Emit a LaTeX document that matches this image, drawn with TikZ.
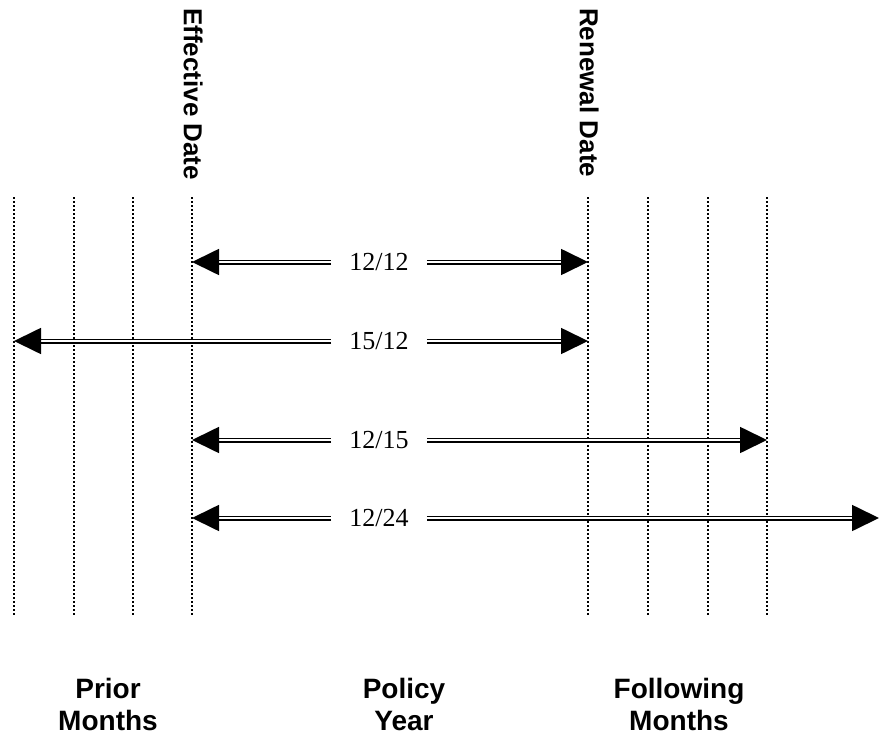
\documentclass[tikz,border=0pt]{standalone}
\usepackage{fontspec}
\setmainfont{Liberation Serif}
\newfontfamily\arialfont{Liberation Sans}
\usetikzlibrary{arrows.meta}
\begin{document}
\begin{tikzpicture}[x=1pt,y=-1pt,
  grid/.style={line width=1.6pt, dash pattern=on 1.6pt off 2.4pt},
  dbl/.style={double, double distance=1.6pt, line width=1.7pt, -{Triangle[length=27pt,width=26pt]}},
  num/.style={font=\fontsize{26}{26}\selectfont, inner xsep=18pt, inner ysep=2pt},
  vlab/.style={font=\arialfont\bfseries\fontsize{26}{26}\selectfont, rotate=-90, anchor=north west, inner sep=0pt},
  blab/.style={font=\arialfont\bfseries\fontsize{28}{32}\selectfont, align=center, inner sep=0pt}]
\useasboundingbox (0,0) rectangle (880,738);
% vertical dotted lines
\foreach \n/\x in {a/14,b/74,c/133,d/192,e/588,f/648,g/708,h/767}{
  \coordinate (\n top) at (\x,197);
  \coordinate (\n bot) at (\x,615);
  \draw[grid] (\n top) -- (\n bot);
}
% rotated labels
\node[vlab] (eff) at (203,8) {Effective Date};
\node[vlab] (ren) at (599,8) {Renewal Date};
% arrow rows
\coordinate (r1l) at (192,262); \coordinate (r1r) at (588,262);
\coordinate (r2l) at (14,341);  \coordinate (r2r) at (588,341);
\coordinate (r3l) at (192,440); \coordinate (r3r) at (767,440);
\coordinate (r4l) at (192,518); \coordinate (r4r) at (879,518);
\node[num] (n1) at (379,262) {12/12};
\node[num] (n2) at (379,341) {15/12};
\node[num] (n3) at (379,440) {12/15};
\node[num] (n4) at (379,518) {12/24};
\foreach \i in {1,2,3,4}{
  \draw[dbl] (n\i) -- (r\i l);
  \draw[dbl] (n\i) -- (r\i r);
}
% bottom labels
\node[blab] (prior) at (108,704) {Prior\\Months};
\node[blab] (policy) at (404,704) {Policy\\Year};
\node[blab] (follow) at (679,704) {Following\\Months};
\end{tikzpicture}
\end{document}
